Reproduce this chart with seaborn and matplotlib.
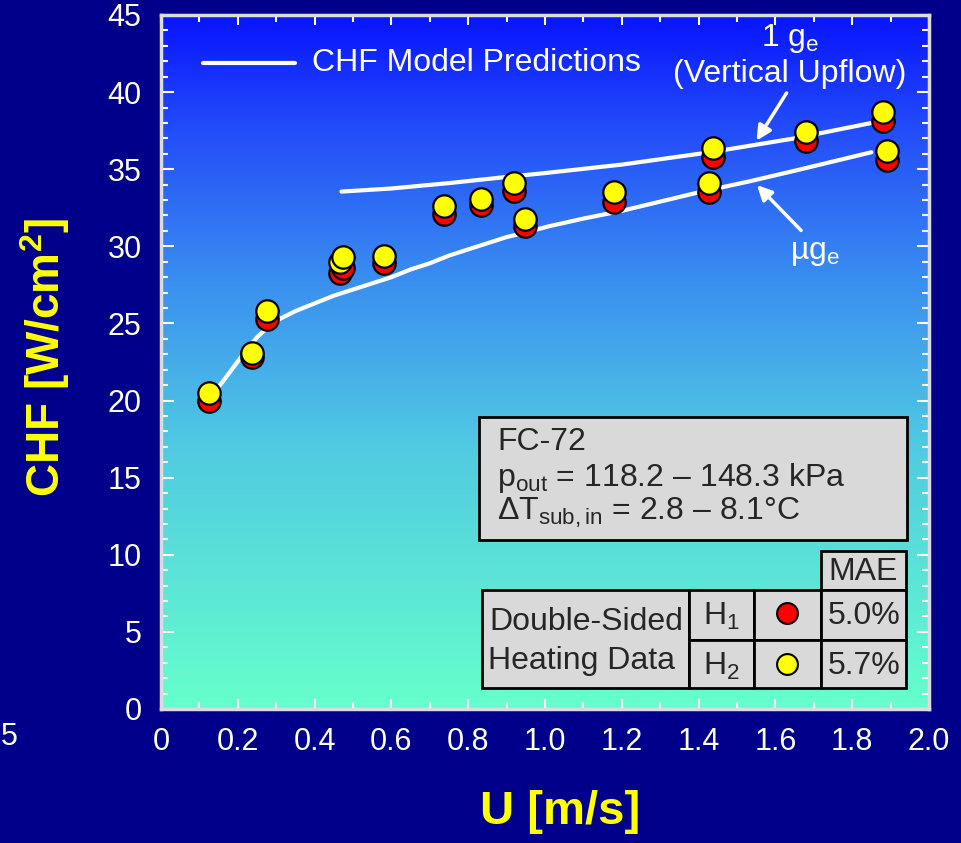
import numpy as np
import seaborn as sns
import matplotlib.pyplot as plt
from matplotlib.colors import LinearSegmentedColormap
from matplotlib.patches import Rectangle
from matplotlib.lines import Line2D

# CHF data, double-sided heating
u_data = [0.125, 0.237, 0.276, 0.466, 0.474, 0.580, 0.737, 0.833, 0.919, 0.948,
          1.180, 1.427, 1.438, 1.680, 1.880, 1.890]
chf_h1 = [20.0, 22.8, 25.3, 28.3, 28.6, 28.9, 32.1, 32.7, 33.6, 31.3,
          32.9, 33.5, 35.8, 36.8, 38.1, 35.6]
chf_h2 = [20.5, 23.1, 25.8, 29.0, 29.3, 29.4, 32.6, 33.1, 34.1, 31.8,
          33.5, 34.1, 36.4, 37.4, 38.7, 36.2]

# model predictions
u_1g = [0.47, 0.60, 0.75, 0.90, 1.00, 1.20, 1.43, 1.65, 1.85]
chf_1g = [33.55, 33.75, 34.1, 34.5, 34.75, 35.3, 36.1, 37.0, 38.0]
u_mug = [0.13, 0.16, 0.19, 0.22, 0.25, 0.28, 0.31, 0.35, 0.40, 0.45, 0.50, 0.55, 0.60,
         0.65, 0.70, 0.75, 0.80, 0.85, 0.90, 0.95, 1.01, 1.10, 1.20, 1.30, 1.40, 1.53,
         1.65, 1.75, 1.85]
chf_mug = [20.3, 21.2, 22.2, 23.2, 24.1, 24.8, 25.3, 25.8, 26.3, 26.8, 27.2, 27.6, 28.0,
           28.5, 28.9, 29.4, 29.8, 30.2, 30.6, 30.9, 31.3, 31.8, 32.3, 32.9, 33.5, 34.2,
           34.9, 35.5, 36.1]

xticks = [0, 0.2, 0.4, 0.6, 0.8, 1.0, 1.2, 1.4, 1.6, 1.8, 2.0]
xtick_labels = ['0', '0.2', '0.4', '0.6', '0.8', '1.0', '1.2', '1.4', '1.6', '1.8', '2.0']
yticks = [0, 5, 10, 15, 20, 25, 30, 35, 40, 45]

mae_h1 = '5.0%'
mae_h2 = '5.7%'

sns.set_style('ticks')
plt.rcParams['font.family'] = ['Liberation Sans', 'DejaVu Sans']
plt.rcParams['mathtext.fontset'] = 'custom'
plt.rcParams['mathtext.rm'] = 'Liberation Sans'
plt.rcParams['mathtext.it'] = 'Liberation Sans:italic'
plt.rcParams['mathtext.bf'] = 'Liberation Sans:bold'

W, H = 961, 843
FS = 23
fig = plt.figure(figsize=(W / 100, H / 100), dpi=100, facecolor='#00008B')
ax = fig.add_axes([161 / W, 1 - 709 / H, 768 / W, 694 / H])


def px(x, y):
    # pixel position -> figure fraction
    return x / W, 1 - y / H


# gradient background
bg = LinearSegmentedColormap.from_list('bg', [(0, '#66ffcc'), (0.38, '#50cae2'),
                                              (0.62, '#3a8ef0'), (0.85, '#2148fa'),
                                              (1, '#0814ff')])
grad = np.linspace(0, 1, 256).reshape(-1, 1)
ax.imshow(grad, cmap=bg, origin='lower', extent=[0, 2, 0, 45], aspect='auto', zorder=0)

# model lines
sns.lineplot(x=u_1g, y=chf_1g, color='white', lw=3, ax=ax, sort=False, estimator=None, zorder=2)
sns.lineplot(x=u_mug, y=chf_mug, color='white', lw=3, ax=ax, sort=False, estimator=None, zorder=2)

# data
sns.scatterplot(x=u_data, y=chf_h1, color='#ff0000', s=260, edgecolor='black', linewidth=1.6,
                ax=ax, zorder=3)
sns.scatterplot(x=u_data, y=chf_h2, color='#ffff00', s=260, edgecolor='black', linewidth=1.6,
                ax=ax, zorder=4)

ax.set_xlim(0, 2)
ax.set_ylim(0, 45)
ax.set_xticks(xticks)
ax.set_xticklabels(xtick_labels)
ax.set_yticks(yticks)
ax.set_xticks(np.arange(0, 2.01, 0.1), minor=True)
ax.set_yticks(np.arange(0, 45.1, 1), minor=True)
ax.tick_params(which='both', direction='in', colors='white', top=True, right=True,
               labelsize=22, width=1.5)
ax.tick_params(axis='x', which='major', pad=13, length=7)
ax.tick_params(axis='y', which='major', pad=14, length=9)
ax.tick_params(which='minor', length=5)
for sp in ax.spines.values():
    sp.set_color('#dcdcdc')
    sp.set_linewidth(2.5)

ax.set_xlabel('U [m/s]', color='#ffff00', fontsize=34, fontweight='bold', va='center')
ax.xaxis.set_label_coords(0.52, -0.148)
ax.set_ylabel(r'CHF [W/cm$^\mathbf{2}$]', color='#ffff00', fontsize=33, fontweight='bold',
              va='center')
ax.yaxis.set_label_coords(-0.151, 0.507)

# legend line
fig.add_artist(Line2D([px(203, 0)[0], px(295, 0)[0]], [px(0, 63)[1]] * 2, color='white', lw=3))
fig.text(*px(312, 63), 'CHF Model Predictions', color='white', fontsize=FS, va='center')

# curve annotations
ax.text(1.638, 43.5, r'1 g$_\mathrm{e}$', color='white', fontsize=FS, ha='center', va='center')
ax.text(1.638, 41.2, '(Vertical Upflow)', color='white', fontsize=FS, ha='center', va='center')
ax.annotate('', xy=(1.547, 36.7), xytext=(1.633, 40.1),
            arrowprops=dict(arrowstyle='-|>', color='white', lw=2.5, mutation_scale=22))
ax.text(1.703, 29.6, r'µg$_\mathrm{e}$', color='white', fontsize=FS, ha='center', va='center')
ax.annotate('', xy=(1.547, 34.1), xytext=(1.672, 30.9),
            arrowprops=dict(arrowstyle='-|>', color='white', lw=2.5, mutation_scale=22))

# info box
box_face = '#d9d9d9'


def cell(x0, y0, x1, y1):
    fx0, fy1 = px(x0, y0)
    fx1, fy0 = px(x1, y1)
    fig.add_artist(Rectangle((fx0, fy0), fx1 - fx0, fy1 - fy0, transform=fig.transFigure,
                             facecolor=box_face, edgecolor='black', lw=2, zorder=5))


cell(479, 417, 907, 540)
fig.text(*px(497, 442), 'FC-72', fontsize=FS, va='center', zorder=6)
fig.text(*px(497, 478), r'p$_\mathrm{out}$ = 118.2 – 148.3 kPa', fontsize=FS, va='center', zorder=6)
fig.text(*px(497, 513), r'ΔT$_\mathrm{sub,in}$ = 2.8 – 8.1°C', fontsize=FS, va='center', zorder=6)

# MAE table
cell(821, 551, 906, 590)
cell(482, 590, 689, 688)
cell(689, 590, 754, 640)
cell(689, 640, 754, 688)
cell(754, 590, 821, 640)
cell(754, 640, 821, 688)
cell(821, 590, 906, 640)
cell(821, 640, 906, 688)
fig.text(*px(863, 572), 'MAE', fontsize=FS, ha='center', va='center', zorder=6)
fig.text(*px(586, 622), 'Double-Sided', fontsize=FS, ha='center', va='center', zorder=6)
fig.text(*px(582, 661), 'Heating Data', fontsize=FS, ha='center', va='center', zorder=6)
fig.text(*px(721, 616), r'H$_1$', fontsize=FS, ha='center', va='center', zorder=6)
fig.text(*px(721, 666), r'H$_2$', fontsize=FS, ha='center', va='center', zorder=6)
fig.add_artist(Line2D([px(787, 0)[0]], [px(0, 613)[1]], marker='o', ms=15, mfc='#ff0000',
                      mec='black', mew=1.5, zorder=6))
fig.add_artist(Line2D([px(787, 0)[0]], [px(0, 664)[1]], marker='o', ms=15, mfc='#ffff00',
                      mec='black', mew=1.5, zorder=6))
fig.text(*px(864, 616), mae_h1, fontsize=FS, ha='center', va='center', zorder=6)
fig.text(*px(864, 666), mae_h2, fontsize=FS, ha='center', va='center', zorder=6)

# stray tick label at the left edge
fig.text(*px(1, 737), '5', color='white', fontsize=22, va='center')

fig.savefig('out.png', dpi=100, facecolor=fig.get_facecolor())
